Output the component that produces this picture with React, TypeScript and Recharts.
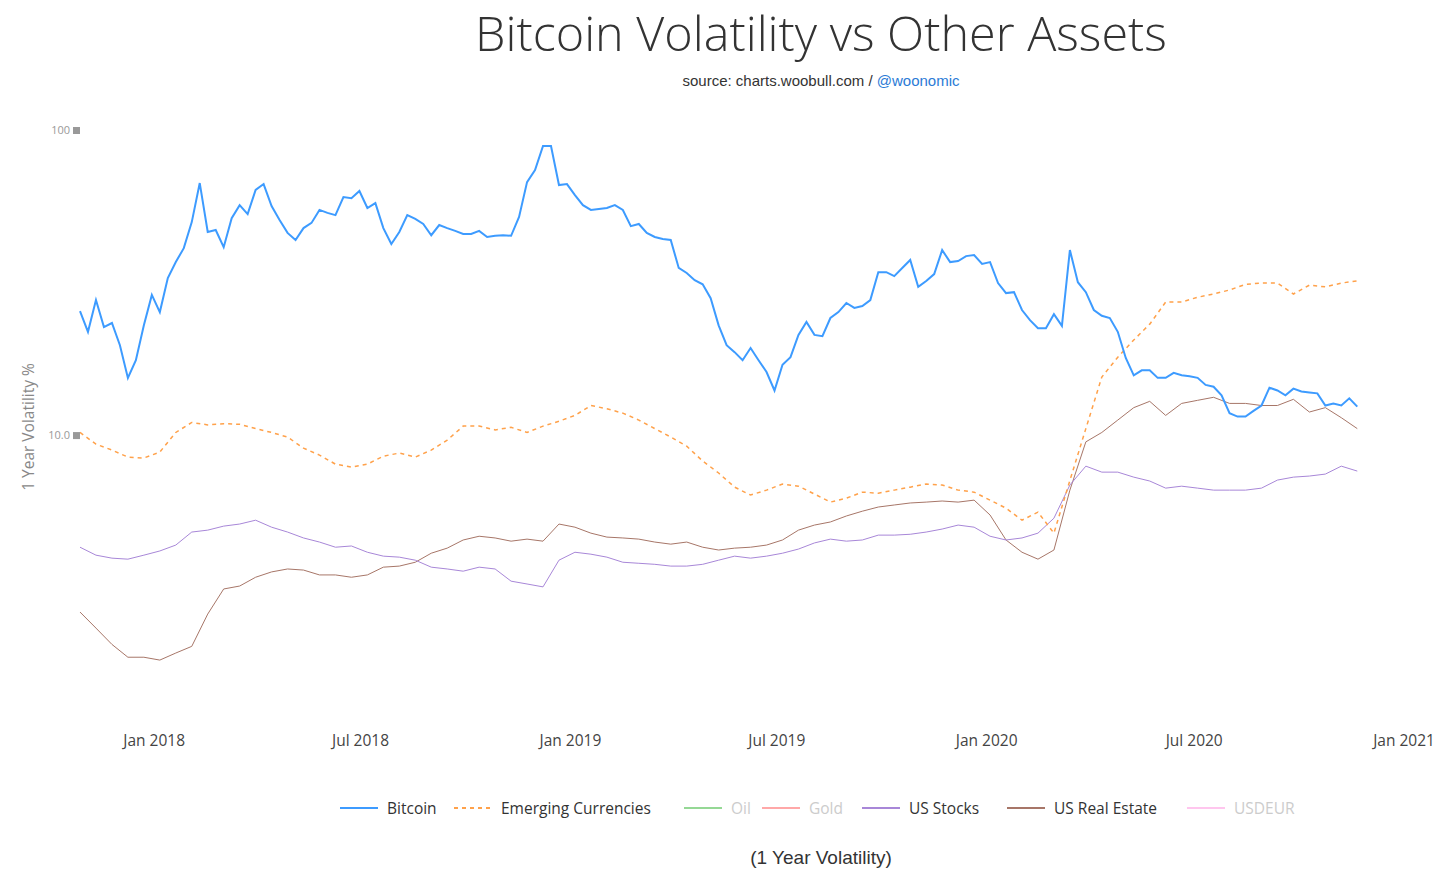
import { LineChart, Line, XAxis, YAxis } from 'recharts'

const DAY = 24 * 60 * 60 * 1000
const startDate = Date.UTC(2017, 9, 28)
const endDate = Date.UTC(2021, 0, 15)

// weekly readings
const bitcoin = [
  25.5, 21.8, 27.7, 22.6, 23.3, 19.7, 15.4, 17.6, 22.9, 28.8,
  25.3, 32.7, 36.9, 41.0, 49.9, 67.0, 46.3, 47.0, 41.3, 51.4,
  56.7, 53.0, 63.6, 66.5, 56.3, 50.7, 46.0, 43.6, 47.7, 49.6,
  54.7, 53.5, 52.6, 60.3, 59.8, 63.1, 55.5, 57.6, 47.7, 42.3,
  46.3, 52.6, 51.1, 49.2, 45.2, 48.8, 47.7, 46.7, 45.6, 45.6,
  46.7, 44.6, 45.0, 45.2, 45.0, 51.9, 67.5, 73.9, 88.6, 88.6,
  66.0, 66.5, 61.2, 56.7, 54.7, 55.1, 55.5, 56.7, 54.7, 48.4,
  49.2, 46.0, 44.6, 43.9, 43.6, 35.3, 34.0, 32.2, 31.2, 28.1,
  22.9, 19.7, 18.7, 17.6, 19.3, 17.6, 16.1, 14.0, 17.0, 18.0,
  21.3, 23.5, 21.3, 21.1, 24.2, 25.3, 27.1, 26.1, 26.5, 27.7,
  34.2, 34.2, 33.2, 35.3, 37.5, 30.6, 32.0, 33.7, 40.4, 36.9,
  37.2, 38.6, 38.9, 36.4, 36.9, 31.5, 29.2, 29.4, 25.7, 23.8,
  22.4, 22.4, 24.9, 22.8, 40.4, 31.7, 29.4, 25.7, 24.6, 24.2,
  21.8, 17.9, 15.7, 16.3, 16.3, 15.4, 15.4, 16.0, 15.7, 15.6,
  15.4, 14.6, 14.4, 13.5, 11.8, 11.5, 11.5, 12.0, 12.5, 14.3,
  14.0, 13.5, 14.2, 13.9, 13.8, 13.7, 12.5, 12.7, 12.5, 13.2,
  12.4,
]

// fortnightly readings
const emergingCurrencies = [
  10.2, 9.34, 8.93, 8.47, 8.41, 8.8, 10.2, 11.0, 10.8, 10.9,
  10.85, 10.5, 10.2, 9.85, 9.06, 8.6, 8.03, 7.85, 8.03, 8.53,
  8.73, 8.47, 8.93, 9.63, 10.7, 10.7, 10.4, 10.6, 10.2, 10.7,
  11.1, 11.6, 12.5, 12.2, 11.8, 11.2, 10.5, 9.85, 9.2, 8.22,
  7.51, 6.75, 6.36, 6.6, 6.91, 6.8, 6.41, 6.03, 6.21, 6.5,
  6.45, 6.6, 6.75, 6.91, 6.86, 6.6, 6.5, 6.12, 5.76, 5.26,
  5.59, 4.77, 7.1, 10.5, 15.5, 18.0, 20.5, 23.1, 27.3, 27.3,
  28.3, 29.0, 29.9, 31.2, 31.5, 31.5, 29.0, 31.0, 30.6, 31.5,
  32.0,
]

const usStocks = [
  4.29, 4.04, 3.95, 3.92, 4.04, 4.17, 4.36, 4.81, 4.88, 5.03,
  5.11, 5.26, 4.99, 4.81, 4.6, 4.46, 4.29, 4.33, 4.13, 4.01,
  3.98, 3.89, 3.69, 3.64, 3.58, 3.69, 3.64, 3.32, 3.25, 3.18,
  3.89, 4.13, 4.07, 3.98, 3.83, 3.8, 3.77, 3.72, 3.72, 3.77,
  3.89, 4.01, 3.95, 4.01, 4.1, 4.23, 4.43, 4.56, 4.49, 4.53,
  4.7, 4.7, 4.73, 4.81, 4.92, 5.07, 4.99, 4.66, 4.53, 4.6,
  4.77, 5.34, 6.86, 7.91, 7.56, 7.56, 7.28, 7.07, 6.7, 6.8,
  6.7, 6.6, 6.6, 6.6, 6.7, 7.12, 7.28, 7.34, 7.45, 7.91,
  7.62,
]

const usRealEstate = [
  2.63, 2.33, 2.06, 1.87, 1.87, 1.83, 1.93, 2.03, 2.59, 3.13,
  3.2, 3.42, 3.56, 3.64, 3.61, 3.48, 3.48, 3.42, 3.48, 3.69,
  3.72, 3.83, 4.1, 4.26, 4.53, 4.66, 4.6, 4.49, 4.56, 4.49,
  5.11, 4.99, 4.77, 4.63, 4.6, 4.56, 4.46, 4.39, 4.46, 4.29,
  4.2, 4.26, 4.29, 4.36, 4.53, 4.88, 5.07, 5.19, 5.43, 5.63,
  5.81, 5.9, 5.99, 6.03, 6.08, 6.03, 6.12, 5.47, 4.53, 4.13,
  3.92, 4.2, 6.6, 9.5, 10.2, 11.2, 12.3, 12.9, 11.6, 12.7,
  13.0, 13.3, 12.7, 12.7, 12.5, 12.5, 13.1, 11.9, 12.3, 11.4,
  10.5,
]

const xTickDates = ['2018-01-01', '2018-07-01', '2019-01-01', '2019-07-01', '2020-01-01', '2020-07-01', '2021-01-01']
const yTicks = [10, 100]
const monthNames = ['Jan', 'Feb', 'Mar', 'Apr', 'May', 'Jun', 'Jul', 'Aug', 'Sep', 'Oct', 'Nov', 'Dec']

const legendItems = [
  { name: 'Bitcoin', color: '#3d9bff', dash: '', active: true },
  { name: 'Emerging Currencies', color: '#ffa14a', dash: '4 4', active: true },
  { name: 'Oil', color: '#95d895', dash: '', active: false },
  { name: 'Gold', color: '#ffa8a8', dash: '', active: false },
  { name: 'US Stocks', color: '#a887d8', dash: '', active: true },
  { name: 'US Real Estate', color: '#a77668', dash: '', active: true },
  { name: 'USDEUR', color: '#ffc6ee', dash: '', active: false },
]
const legendX = [340, 454, 684, 762, 862, 1007, 1187]

const rows = bitcoin.map((btc, i) => ({
  t: startDate + i * 7 * DAY,
  btc,
  em: i % 2 === 0 ? emergingCurrencies[i / 2] : undefined,
  stocks: i % 2 === 0 ? usStocks[i / 2] : undefined,
  realEstate: i % 2 === 0 ? usRealEstate[i / 2] : undefined,
}))

const xTicks = xTickDates.map(d => Date.parse(d + 'T00:00:00Z'))

const FONT = "'Open Sans', sans-serif"
const ARIAL = "'Liberation Sans', Arial, sans-serif"

function XTick({ x, y, payload }: any) {
  const d = new Date(payload.value)
  const label = `${monthNames[d.getUTCMonth()]} ${d.getUTCFullYear()}`
  return (
    <text x={x} y={y + 30} textAnchor="middle" fill="#444" fontSize={15.5} fontFamily={FONT}>
      {label}
    </text>
  )
}

function YTick({ x, y, payload }: any) {
  const v = payload.value
  const label = v >= 100 ? String(v) : v.toFixed(1)
  return (
    <g>
      <text x={x - 10} y={y + 4} textAnchor="end" fill="#999" fontSize={11} fontFamily={FONT}>
        {label}
      </text>
      <rect x={x - 7} y={y - 3} width={7} height={7} fill="#999" />
    </g>
  )
}

export default function App() {
  return (
    <div style={{ position: 'absolute', left: 0, top: 0, width: 1448, height: 873, background: '#fff' }}>
      <LineChart
        width={1448}
        height={873}
        data={rows}
        margin={{ top: 130, right: 28, bottom: 117, left: 0 }}
      >
        <XAxis
          dataKey="t"
          type="number"
          scale="time"
          domain={[startDate, endDate]}
          ticks={xTicks}
          height={40}
          axisLine={false}
          tickLine={false}
          tickSize={0}
          tickMargin={0}
          tick={<XTick />}
          interval={0}
        />
        <YAxis
          type="number"
          scale="log"
          domain={[1.2, 100]}
          allowDataOverflow
          ticks={yTicks}
          width={80}
          axisLine={false}
          tickLine={false}
          tickSize={0}
          tickMargin={0}
          tick={<YTick />}
          interval={0}
        />
        <Line dataKey="realEstate" stroke="#a77668" strokeWidth={1} dot={false} connectNulls isAnimationActive={false} />
        <Line dataKey="stocks" stroke="#a887d8" strokeWidth={1} dot={false} connectNulls isAnimationActive={false} />
        <Line dataKey="em" stroke="#ffa14a" strokeWidth={1.5} strokeDasharray="4 4" dot={false} connectNulls isAnimationActive={false} />
        <Line dataKey="btc" stroke="#3d9bff" strokeWidth={2} dot={false} isAnimationActive={false} />
      </LineChart>
      <svg
        width={1448}
        height={873}
        style={{ position: 'absolute', left: 0, top: 0, pointerEvents: 'none' }}
      >
        <text x={821} y={51} textAnchor="middle" fontSize={48.5} fontWeight={300} fill="#333" fontFamily={FONT}>
          Bitcoin Volatility vs Other Assets
        </text>
        <text x={821} y={86} textAnchor="middle" fontSize={15} fill="#333" fontFamily={ARIAL}>
          <tspan>source: charts.woobull.com / </tspan>
          <tspan fill="#2b7bd6">@woonomic</tspan>
        </text>
        <text
          x={34}
          y={427}
          textAnchor="middle"
          fontSize={15.5}
          fill="#888"
          fontFamily={FONT}
          transform="rotate(-90 34 427)"
        >
          1 Year Volatility %
        </text>
        {legendItems.map((item, i) => (
          <g key={item.name}>
            <line
              x1={legendX[i]}
              x2={legendX[i] + 38}
              y1={808}
              y2={808}
              stroke={item.color}
              strokeWidth={2}
              strokeDasharray={item.dash || undefined}
            />
            <text x={legendX[i] + 47} y={814} fontSize={15.5} fill={item.active ? '#333' : '#ccc'} fontFamily={FONT}>
              {item.name}
            </text>
          </g>
        ))}
        <text x={821} y={864} textAnchor="middle" fontSize={19} fill="#333" fontFamily={ARIAL}>
          (1 Year Volatility)
        </text>
      </svg>
    </div>
  )
}
